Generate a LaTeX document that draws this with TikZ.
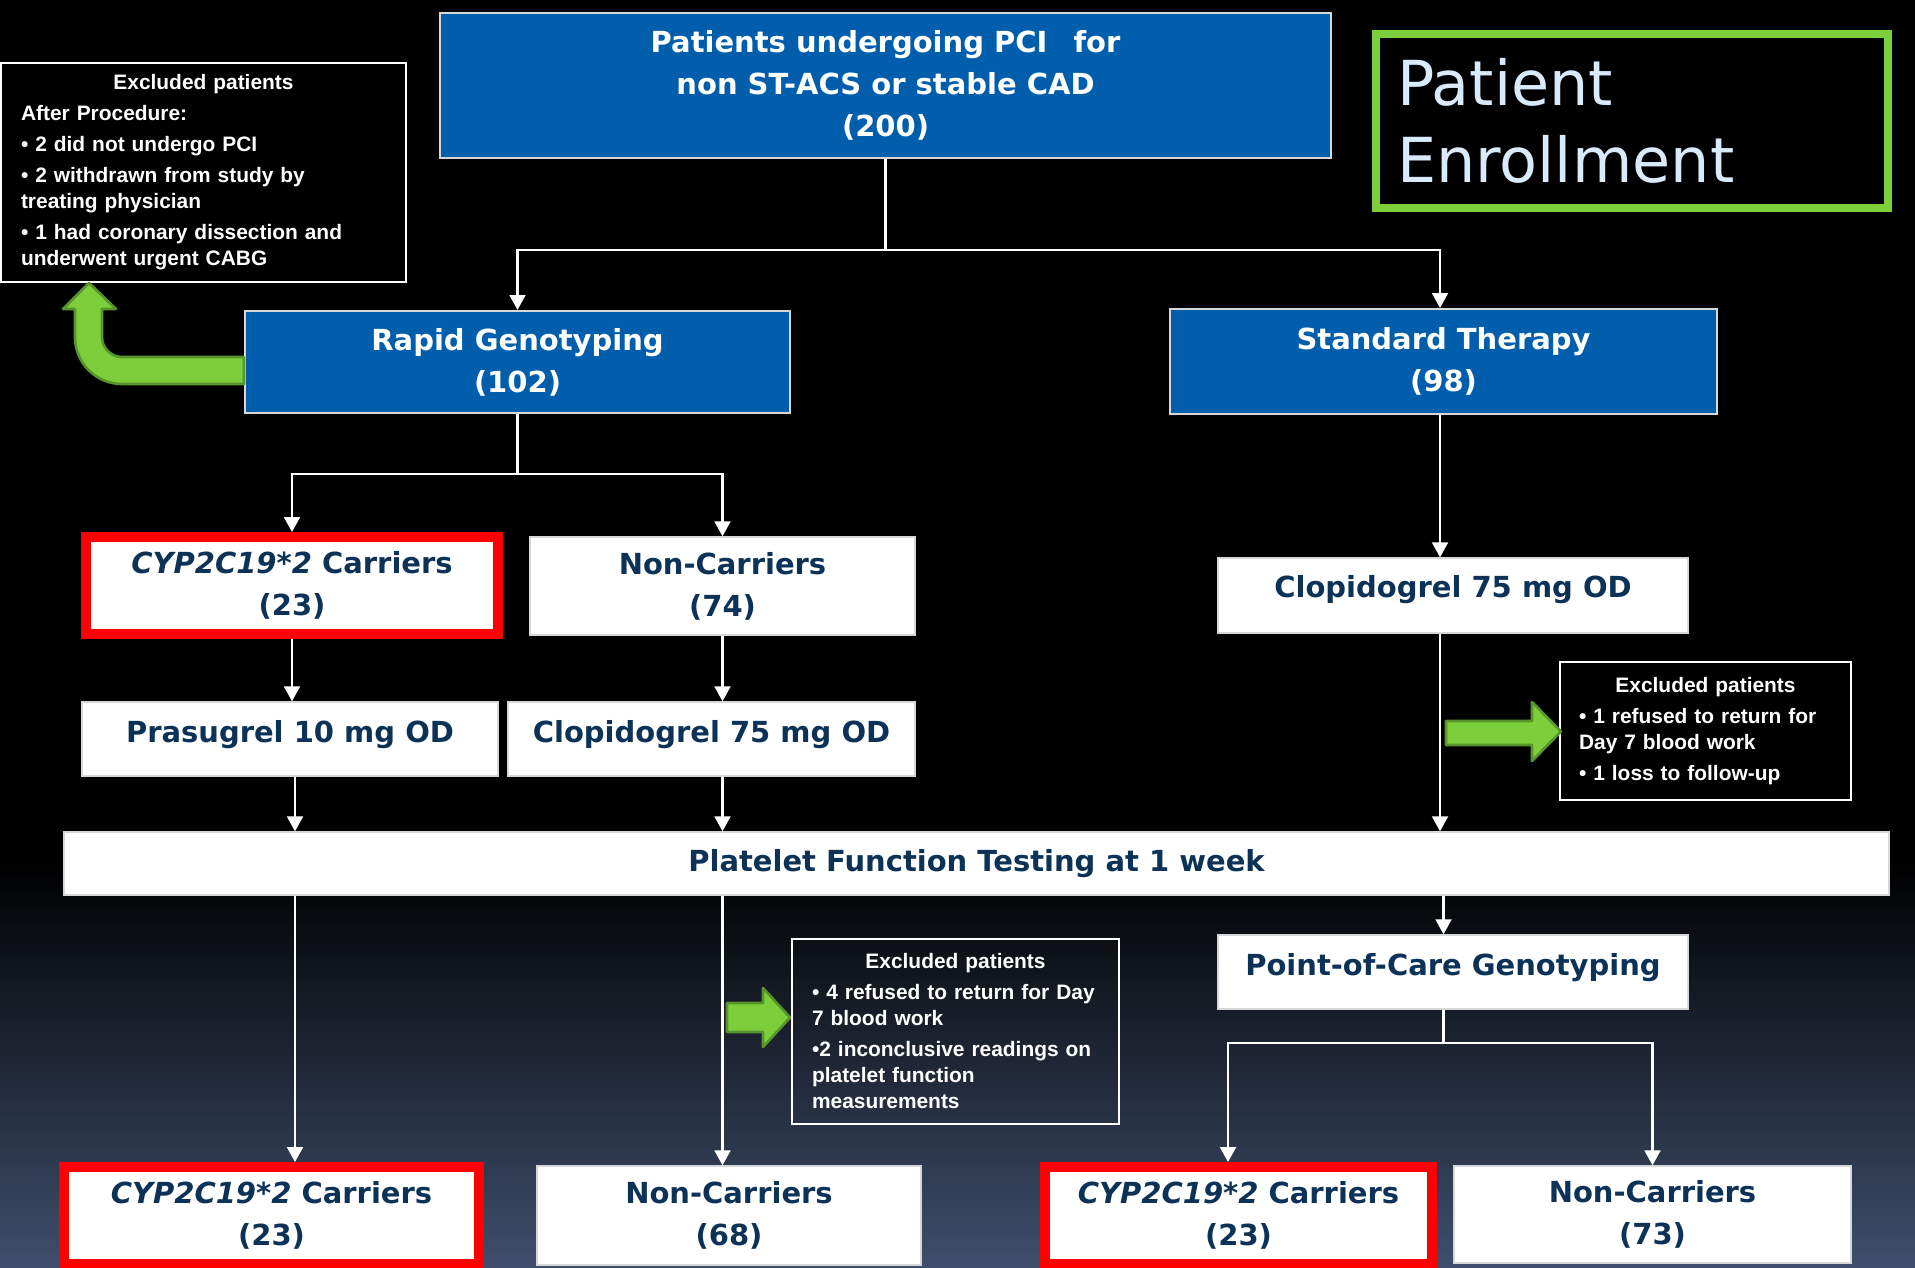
\documentclass[tikz,border=0pt]{standalone}
\usepackage{fontspec}
\setmainfont{DejaVu Sans}
\newfontfamily\exfont{Liberation Sans}
\usetikzlibrary{positioning,arrows.meta}

\definecolor{boxblue}{RGB}{0,94,172}
\definecolor{navytext}{RGB}{12,50,88}
\definecolor{arrowgreen}{RGB}{125,206,59}
\definecolor{arrowedge}{RGB}{88,148,44}
\definecolor{titleblue}{RGB}{216,234,252}
\definecolor{bgblue}{RGB}{62,78,108}
\definecolor{boxedge}{RGB}{215,215,215}

\newcommand{\boxfont}{\fontsize{16.5pt}{23.8pt}\selectfont\bfseries}
\newcommand{\exsize}{\exfont\fontsize{11.9pt}{14.8pt}\selectfont\bfseries}
\newcommand{\titlefont}{\fontsize{35.3pt}{43.8pt}\selectfont}
\newcommand{\exhead}{\makebox[\hsize][c]{Excluded patients}}

\begin{document}
\begin{tikzpicture}[
        x=0.02cm, y=-0.02cm,
        >={Triangle[width=9pt,length=8.5pt]},
        link/.style={draw=white, line width=1.4pt},
        bluebox/.style={rectangle, draw=boxedge, line width=1.2pt, fill=boxblue, text=white, font=\boxfont, align=center},
        whitebox/.style={rectangle, draw=boxedge, line width=0.8pt, fill=white, text=navytext, font=\boxfont, align=center},
        carrierbox/.style={whitebox, draw=red, line width=0.2cm},
        exbox/.style={rectangle, draw=white, line width=1.2pt, text=white, font=\exsize, align=left, inner xsep=0.4cm},
        greenarrow/.style={fill=arrowgreen, draw=arrowedge, line width=1.5pt, line join=round}
      ]

      % background
      \useasboundingbox (0,0) rectangle (1915,1267);
      \fill[black] (0,0) rectangle (1915,1267);
      \shade[top color=black, bottom color=bgblue] (0,860) rectangle (1915,1267);

      \node[draw=arrowgreen, line width=0.16cm, minimum width=10.24cm, minimum height=3.48cm, text width=9.4cm, inner xsep=0.42cm, align=left, text=titleblue, font=\titlefont] (title) at (1632,121) {Patient\\Enrollment};

      \node[bluebox, minimum width=17.82cm, minimum height=2.9cm] (pci) at (885.5,85.5) {Patients undergoing PCI\hspace{0.9em}for\\non ST-ACS or stable CAD\\(200)};

      \node[bluebox, minimum width=10.9cm, minimum height=2.04cm] (rapid) at (517.5,362) {Rapid Genotyping\\(102)};
      \node[bluebox, minimum width=10.94cm, minimum height=2.1cm] (std) at (1443.5,361.5) {Standard Therapy\\(98)};

      \node[carrierbox, minimum width=8.24cm, minimum height=1.94cm] (cypT) at (292,585.5) {\textit{CYP2C19*2} Carriers\\(23)};
      \node[whitebox, minimum width=7.7cm, minimum height=1.96cm] (nc74) at (722.5,586) {Non-Carriers\\(74)};
      \node[whitebox, minimum width=9.4cm, minimum height=1.5cm, text depth=0.38cm] (clopR) at (1453,595.5) {Clopidogrel 75 mg OD};

      \node[whitebox, minimum width=8.32cm, minimum height=1.48cm, text depth=0.3cm] (prasu) at (290,739) {Prasugrel 10 mg OD};
      \node[whitebox, minimum width=8.14cm, minimum height=1.48cm, text depth=0.3cm] (clopM) at (711.5,739) {Clopidogrel 75 mg OD};

      \node[whitebox, minimum width=36.5cm, minimum height=1.26cm] (plat) at (976.5,863.5) {Platelet Function Testing at 1 week};
      \node[whitebox, minimum width=9.4cm, minimum height=1.48cm, text depth=0.3cm] (poc) at (1453,972) {Point-of-Care Genotyping};

      \node[carrierbox, minimum width=8.3cm, minimum height=1.94cm] (cypB) at (271.5,1215.5) {\textit{CYP2C19*2} Carriers\\(23)};
      \node[whitebox, minimum width=7.68cm, minimum height=1.98cm] (nc68) at (729,1215.5) {Non-Carriers\\(68)};
      \node[carrierbox, minimum width=7.74cm, minimum height=1.94cm] (cypR) at (1238.5,1215.5) {\textit{CYP2C19*2} Carriers\\(23)};
      \node[whitebox, minimum width=7.94cm, minimum height=1.94cm] (nc73) at (1652.5,1214.5) {Non-Carriers\\(73)};

      % excluded patients
      \node[exbox, minimum width=8.1cm, minimum height=4.38cm, text width=7.3cm] (ex1) at (203.5,172.5) {\exhead\\[0.1cm]
        After Procedure:\\[0.1cm]
        \textbullet\ 2 did not undergo PCI\\[0.1cm]
        \textbullet\ 2 withdrawn from study by\\
        treating physician\\[0.1cm]
        \textbullet\ 1 had coronary dissection and\\
        underwent urgent CABG};
      \node[exbox, minimum width=5.82cm, minimum height=2.76cm, text width=5.06cm, inner xsep=0.38cm] (ex2) at (1705.5,731) {\exhead\\[0.1cm]
        \textbullet\ 1 refused to return for\\
        Day 7 blood work\\[0.1cm]
        \textbullet\ 1 loss to follow-up};
      \node[exbox, minimum width=6.54cm, minimum height=3.7cm, text width=5.74cm] (ex3) at (955.5,1031.5) {\exhead\\[0.1cm]
        \textbullet\ 4 refused to return for Day\\
        7 blood work\\[0.1cm]
        \textbullet 2 inconclusive readings on\\
        platelet function\\
        measurements};

      % connectors
      \coordinate (j1) at (885.5,250);
      \coordinate (j2) at (517.5,474);
      \coordinate (j3) at (1443.5,1043);
      \coordinate (rcol) at (1440,0);
      \coordinate (lcol) at (295,0);
      \coordinate (cypRin) at (1228,0);
      \draw[link] (pci.south) -- (j1);
      \draw[link,->] (j1) -| (rapid.north);
      \draw[link,->] (j1) -| (std.north -| rcol);
      \draw[link] (rapid.south) -- (j2);
      \draw[link,->] (j2) -| (cypT.north);
      \draw[link,->] (j2) -| (nc74.north);
      \draw[link,->] (cypT.south) -- (cypT.south |- prasu.north);
      \draw[link,->] (nc74.south) -- (nc74.south |- clopM.north);
      \draw[link,->] (std.south -| rcol) -- (rcol |- clopR.north);
      \draw[link,->] (prasu.south -| lcol) -- (lcol |- plat.north);
      \draw[link,->] (clopM.south -| nc74.south) -- (nc74.south |- plat.north);
      \draw[link,->] (clopR.south -| rcol) -- (rcol |- plat.north);
      \draw[link,->] (plat.south -| j3) -- (j3 |- poc.north);
      \draw[link,->] (plat.south -| lcol) -- (lcol |- cypB.north);
      \draw[link,->] (plat.south -| nc74.south) -- (nc74.south |- nc68.north);
      \draw[link] (poc.south -| j3) -- (j3);
      \draw[link,->] (j3) -| (cypR.north -| cypRin);
      \draw[link,->] (j3) -| (nc73.north);

      % green arrows
      \draw[greenarrow] (244,357) -- (122,357) .. controls (111,357) and (102,348) .. (102,337) -- (102,309) -- (116,309) -- (89,283) -- (63,309) -- (75,309) -- (75,337) .. controls (75,363) and (96,384) .. (122,384) -- (244,384) -- cycle;
      \draw[greenarrow] (1446,721) -- (1532,721) -- (1532,702) -- (1561,731.5) -- (1532,761) -- (1532,745) -- (1446,745) -- cycle;
      \draw[greenarrow] (727,1003) -- (763,1003) -- (763,988) -- (790,1017.5) -- (763,1047) -- (763,1032) -- (727,1032) -- cycle;

    \end{tikzpicture}
\end{document}
